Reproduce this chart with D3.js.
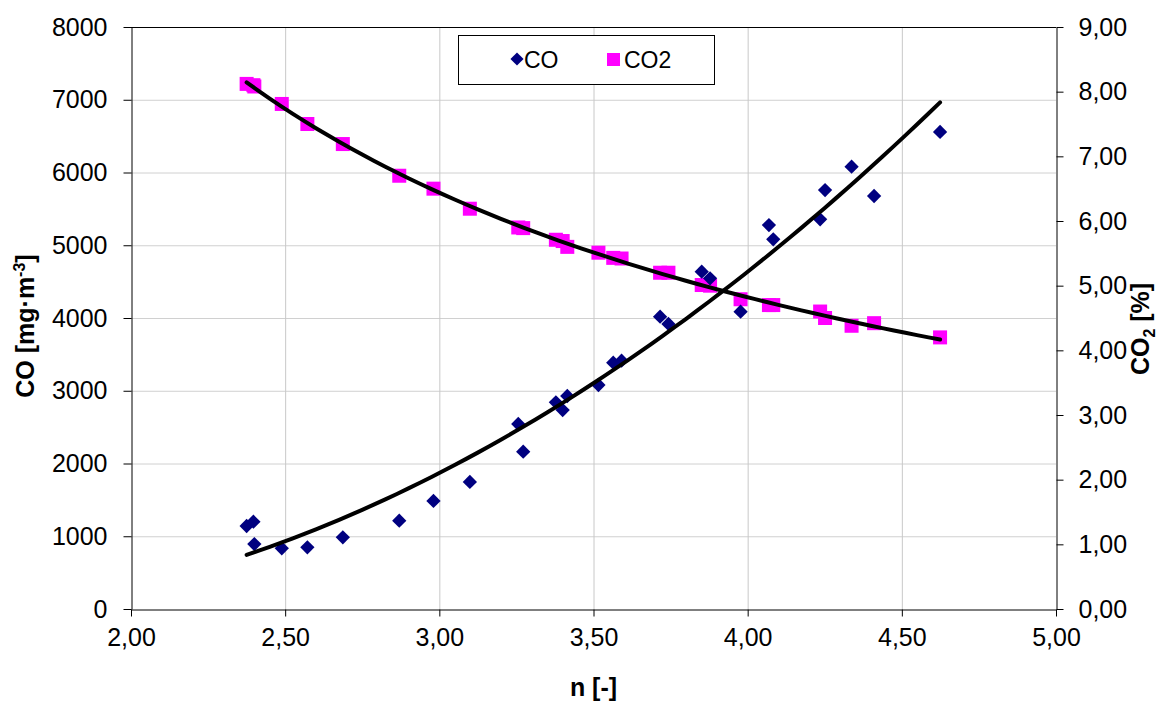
<!DOCTYPE html>
<html>
<head>
<meta charset="utf-8">
<script src="https://cdn.jsdelivr.net/npm/d3@7"></script>
<style>
  body { margin: 0; background: #fff; }
  svg { display: block; font-family: "Liberation Sans", Arial, sans-serif; }
</style>
</head>
<body>
<script>
// Dados
var nValues  = [2.375, 2.397, 2.400, 2.489, 2.572, 2.687, 2.870, 2.981, 3.099, 3.256, 3.272, 3.378, 3.400, 3.415, 3.516,
                3.564, 3.591, 3.716, 3.743, 3.851, 3.878, 3.977, 4.069, 4.083, 4.235, 4.251, 4.337, 4.410, 4.624];
var coValues = [1141, 1200, 893, 834, 848, 985, 1214, 1485, 1746, 2543, 2163, 2841, 2735, 2928, 3079,
                3386, 3413, 4018, 3918, 4637, 4545, 4087, 5278, 5082, 5357, 5759, 6080, 5677, 6557];
var co2Values = [8.12, 8.10, 8.08, 7.81, 7.50, 7.19, 6.70, 6.50, 6.19, 5.90, 5.89, 5.71, 5.69, 5.60, 5.51,
                 5.43, 5.42, 5.20, 5.20, 5.01, 5.00, 4.79, 4.70, 4.70, 4.60, 4.50, 4.38, 4.42, 4.20];
var xTicks = [2.0, 2.5, 3.0, 3.5, 4.0, 4.5, 5.0];
var yLeftTicks = [0, 1000, 2000, 3000, 4000, 5000, 6000, 7000, 8000];
var yRightTicks = [0, 1, 2, 3, 4, 5, 6, 7, 8, 9];
var seriesNames = ['CO', 'CO2'];

// Dimensoes
var W = 1172, H = 702;
var plot = {left: 131, right: 1056, top: 27, bottom: 609};

var x = d3.scaleLinear().domain([2, 5]).range([plot.left, plot.right]);
var yL = d3.scaleLinear().domain([0, 8000]).range([plot.bottom, plot.top]);
var yR = d3.scaleLinear().domain([0, 9]).range([plot.bottom, plot.top]);
var comma = function(v) { return d3.format('.2f')(v).replace('.', ','); };

var svg = d3.select('body').append('svg').attr('width', W).attr('height', H);

// Grade
svg.append('g').selectAll('line')
  .data(yLeftTicks.slice(1, -1))
  .enter().append('line')
  .attr('x1', plot.left).attr('x2', plot.right)
  .attr('y1', d => yL(d) + 0.5).attr('y2', d => yL(d) + 0.5)
  .attr('stroke', '#d0d0d0');
svg.append('g').selectAll('line')
  .data(xTicks.slice(1, -1))
  .enter().append('line')
  .attr('y1', plot.top).attr('y2', plot.bottom)
  .attr('x1', d => x(d) + 0.5).attr('x2', d => x(d) + 0.5)
  .attr('stroke', '#c8c8c8');
svg.append('line')
  .attr('x1', plot.left).attr('x2', plot.right)
  .attr('y1', plot.top + 0.5).attr('y2', plot.top + 0.5)
  .attr('stroke', '#000');

// Eixos
function styleAxis(g) {
  g.selectAll('text').attr('font-size', 25).attr('fill', '#000')
    .attr('font-family', '"Liberation Sans", Arial, sans-serif');
  g.selectAll('line').attr('stroke', '#000');
  g.select('.domain').attr('stroke', '#000');
}
svg.append('g')
  .attr('transform', 'translate(0,' + (plot.bottom + 0.5) + ')')
  .call(d3.axisBottom(x).tickValues(xTicks).tickFormat(comma).tickSize(7).tickSizeOuter(0).tickPadding(12))
  .call(styleAxis);
svg.append('g')
  .attr('transform', 'translate(' + (plot.left + 0.5) + ',0)')
  .call(d3.axisLeft(yL).tickValues(yLeftTicks).tickFormat(d3.format('d')).tickSize(8).tickSizeOuter(0).tickPadding(16))
  .call(styleAxis);
svg.append('g')
  .attr('transform', 'translate(' + (plot.right + 0.5) + ',0)')
  .call(d3.axisRight(yR).tickValues(yRightTicks).tickFormat(comma).tickSize(7).tickSizeOuter(0).tickPadding(15))
  .call(styleAxis);

// Linhas de tendencia: CO polinomial de 2a ordem, CO2 potencia (minimos quadrados)
function polyFit2(xs, ys) {
  var s = [0, 0, 0, 0, 0], t = [0, 0, 0];
  for (var i = 0; i < xs.length; i++) {
    var p = 1;
    for (var k = 0; k < 5; k++) { s[k] += p; if (k < 3) t[k] += p * ys[i]; p *= xs[i]; }
  }
  var A = [[s[0], s[1], s[2], t[0]], [s[1], s[2], s[3], t[1]], [s[2], s[3], s[4], t[2]]];
  for (var c = 0; c < 3; c++) {
    for (var r = c + 1; r < 3; r++) {
      var f = A[r][c] / A[c][c];
      for (var j = c; j < 4; j++) A[r][j] -= f * A[c][j];
    }
  }
  var b = [0, 0, 0];
  for (var r2 = 2; r2 >= 0; r2--) {
    var acc = A[r2][3];
    for (var j2 = r2 + 1; j2 < 3; j2++) acc -= A[r2][j2] * b[j2];
    b[r2] = acc / A[r2][r2];
  }
  return function(v) { return b[0] + b[1] * v + b[2] * v * v; };
}
function powerFit(xs, ys) {
  var lx = xs.map(Math.log), ly = ys.map(Math.log);
  var mx = d3.mean(lx), my = d3.mean(ly);
  var num = 0, den = 0;
  for (var i = 0; i < lx.length; i++) { num += (lx[i] - mx) * (ly[i] - my); den += (lx[i] - mx) * (lx[i] - mx); }
  var b = num / den, a = Math.exp(my - b * mx);
  return function(v) { return a * Math.pow(v, b); };
}
var nMin = d3.min(nValues), nMax = d3.max(nValues);
var samples = d3.range(0, 61).map(i => nMin + (nMax - nMin) * i / 60);
var fitCO = polyFit2(nValues, coValues);
var fitCO2 = powerFit(nValues, co2Values);

// Marcadores
svg.append('g').selectAll('rect')
  .data(nValues)
  .enter().append('rect')
  .attr('x', d => x(d) - 7).attr('y', (d, i) => yR(co2Values[i]) - 7)
  .attr('width', 14).attr('height', 14)
  .attr('fill', '#ff00ff');
svg.append('g').selectAll('path')
  .data(nValues)
  .enter().append('path')
  .attr('d', d3.symbol(d3.symbolDiamond2, 130))
  .attr('transform', (d, i) => 'translate(' + x(d) + ',' + yL(coValues[i]) + ')')
  .attr('fill', '#000080');

var lineCO = d3.line().x(d => x(d)).y(d => yL(fitCO(d)));
var lineCO2 = d3.line().x(d => x(d)).y(d => yR(fitCO2(d)));
svg.append('path').attr('d', lineCO(samples))
  .attr('fill', 'none').attr('stroke', '#000').attr('stroke-width', 4).attr('stroke-linecap', 'round');
svg.append('path').attr('d', lineCO2(samples))
  .attr('fill', 'none').attr('stroke', '#000').attr('stroke-width', 4).attr('stroke-linecap', 'round');

// Titulos dos eixos
svg.append('text')
  .attr('x', x(3.5)).attr('y', 696)
  .attr('text-anchor', 'middle').attr('font-size', 25).attr('font-weight', 'bold')
  .text('n [-]');

var tl = svg.append('text')
  .attr('transform', 'translate(34,326) rotate(-90)')
  .attr('text-anchor', 'middle').attr('font-size', 25).attr('font-weight', 'bold');
tl.append('tspan').text('CO [mg·m');
tl.append('tspan').attr('dy', -9).attr('font-size', 16).text('-3');
tl.append('tspan').attr('dy', 9).text(']');

var tr = svg.append('text')
  .attr('transform', 'translate(1149,329) rotate(-90)')
  .attr('text-anchor', 'middle').attr('font-size', 25).attr('font-weight', 'bold');
tr.append('tspan').text('CO');
tr.append('tspan').attr('dy', 6).attr('font-size', 16).text('2');
tr.append('tspan').attr('dy', -6).text(' [%]');

// Legenda
var leg = svg.append('g');
leg.append('rect')
  .attr('x', 458.5).attr('y', 35.5).attr('width', 256).attr('height', 49)
  .attr('fill', '#fff').attr('stroke', '#000');
leg.append('path')
  .attr('d', d3.symbol(d3.symbolDiamond2, 110))
  .attr('transform', 'translate(517,59)').attr('fill', '#000080');
leg.append('rect')
  .attr('x', 607).attr('y', 53).attr('width', 13).attr('height', 13).attr('fill', '#ff00ff');
leg.selectAll('text.lbl')
  .data(seriesNames)
  .enter().append('text').attr('class', 'lbl')
  .attr('x', (d, i) => i === 0 ? 524 : 624).attr('y', 68)
  .attr('font-size', 23).text(d => d);
</script>
</body>
</html>
